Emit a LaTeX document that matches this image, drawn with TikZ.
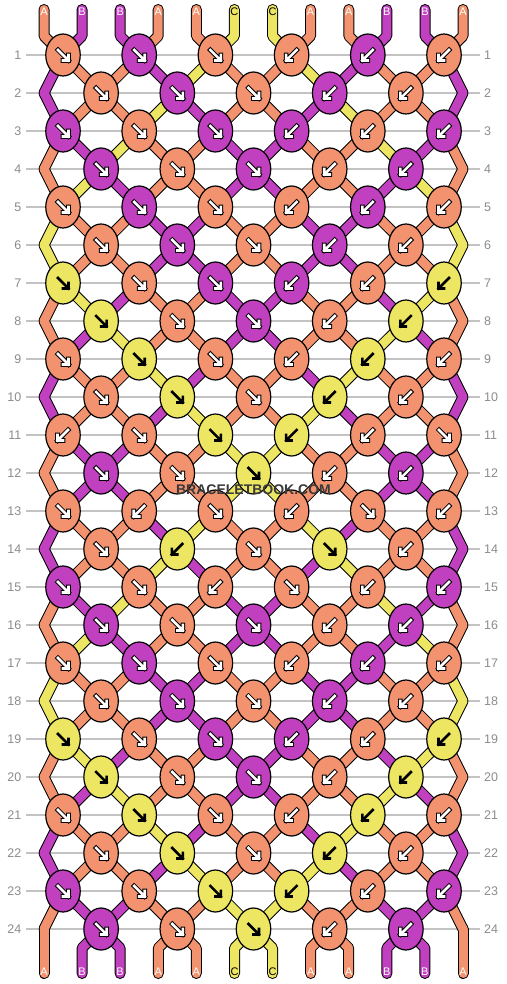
\documentclass[tikz,border=0pt]{standalone}
\usepackage{fontspec}
\setmainfont{Liberation Sans}
\usetikzlibrary{shapes.geometric}

\definecolor{strA}{RGB}{242,146,110}
\definecolor{strB}{RGB}{192,64,192}
\definecolor{strC}{RGB}{236,230,98}
\definecolor{rowgray}{RGB}{140,140,140}
\definecolor{gridgray}{RGB}{195,195,195}
\definecolor{markgray}{RGB}{58,58,58}

\pgfdeclarelayer{grid}
\pgfdeclarelayer{strands}
\pgfsetlayers{grid,strands,main}

\tikzset{
  knot/.style={ellipse, draw=black, line width=1.2pt, minimum width=34.5pt,
    minimum height=42pt, inner sep=0pt},
  strandout/.style={black, line width=11pt, line cap=round, line join=round},
  strandin/.style={color=#1, line width=9pt, line cap=round, line join=round},
  arrowout/.style={color=#1, line width=4.6pt, line cap=rect, line join=miter},
  arrowin/.style={color=#1, line width=2.6pt, line cap=rect, line join=miter},
  rowlabel/.style={text=rowgray, inner sep=0pt, font=\fontsize{12.5}{14}\selectfont},
  endlabel/.style={text=#1, inner sep=0pt, font=\fontsize{11}{12}\selectfont},
  gridline/.style={gridgray, line width=1.4pt},
}
\def\letC{C}

% knot directions per row (1 = forward, -1 = backward)
\def\knotrows{{1,1,1,-1,-1,-1},{1,1,1,-1,-1},{1,1,1,-1,-1,-1},{1,1,1,-1,-1},%
{1,1,1,-1,-1,-1},{1,1,1,-1,-1},{1,1,1,-1,-1,-1},{1,1,1,-1,-1},%
{1,1,1,-1,-1,-1},{1,1,1,-1,-1},{-1,1,1,-1,-1,1},{1,1,1,-1,-1},%
{1,-1,1,-1,1,-1},{1,-1,1,1,-1},{1,1,-1,1,-1,-1},{1,1,1,-1,-1},%
{1,1,1,-1,-1,-1},{1,1,1,-1,-1},{1,1,1,-1,-1,-1},{1,1,1,-1,-1},%
{1,1,1,-1,-1,-1},{1,1,1,-1,-1},{1,1,1,-1,-1,-1},{1,1,1,-1,-1}}

\begin{document}
\begin{tikzpicture}[x=1pt, y=-1pt]
  \useasboundingbox (0,0) rectangle (506,984);

  % strand colours, row by row
  \foreach \lt [count=\ps] in {A,B,B,A,A,C,C,A,A,B,B,A}
    {\expandafter\xdef\csname st0-\ps\endcsname{\lt}}
  \foreach \dirs [count=\rw] in \knotrows {
    \edef\rprev{\the\numexpr\rw-1\relax}
    \foreach \ps in {1,...,12}
      {\expandafter\xdef\csname st\rw-\ps\endcsname{\csname st\rprev-\ps\endcsname}}
    \foreach \sd [count=\kt] in \dirs {
      \ifodd\rw\relax\edef\posL{\the\numexpr2*\kt-1\relax}\else\edef\posL{\the\numexpr2*\kt\relax}\fi
      \edef\posR{\the\numexpr\posL+1\relax}
      \edef\colL{\csname st\rw-\posL\endcsname}
      \edef\colR{\csname st\rw-\posR\endcsname}
      \expandafter\xdef\csname st\rw-\posL\endcsname{\colR}
      \expandafter\xdef\csname st\rw-\posR\endcsname{\colL}
      \ifnum\sd>0 \expandafter\xdef\csname kc\rw-\kt\endcsname{\colL}%
      \else\expandafter\xdef\csname kc\rw-\kt\endcsname{\colR}\fi
    }
  }

  % rows and their numbers
  \begin{pgfonlayer}{grid}
    \fill[white] (0,0) rectangle (506,984);
    \foreach \rw in {1,...,24} {
      \pgfmathsetmacro\y{55+38*(\rw-1)}
      \draw[gridline] (26,\y) -- (480,\y);
      \node[rowlabel, anchor=east] (rowL\rw) at (21.5,\y) {\rw};
      \node[rowlabel, anchor=west] (rowR\rw) at (484,\y) {\rw};
    }
  \end{pgfonlayer}

  % knots with their arrows, and the turning points at the edges
  \foreach \dirs [count=\rw] in \knotrows {
    \pgfmathsetmacro\y{55+38*(\rw-1)}
    \ifodd\rw\relax\def\xstart{63}\else\def\xstart{101.1}%
      \coordinate (k\rw-0) at (44,\y);
      \coordinate (k\rw-6) at (463,\y);
    \fi
    \foreach \sd [count=\kt] in \dirs {
      \pgfmathsetmacro\x{\xstart+76.2*(\kt-1)}
      \edef\lt{\csname kc\rw-\kt\endcsname}
      \node[knot, fill=str\lt] (k\rw-\kt) at (\x,\y) {};
      \ifx\lt\letC\def\arrowfg{black}\def\arrowbg{strC}\else\def\arrowfg{white}\def\arrowbg{black}\fi
      \begin{scope}[shift={(k\rw-\kt.center)}, xscale=\sd]
        \draw[arrowout=\arrowbg] (-5,-5) -- (5.5,5.5) (0,5.5) -- (5.5,5.5) -- (5.5,0);
        \draw[arrowin=\arrowfg] (-5,-5) -- (5.5,5.5) (0,5.5) -- (5.5,5.5) -- (5.5,0);
      \end{scope}
    }
  }

  % loose ends with their letters
  \foreach \ps in {1,...,12} {
    \edef\ka{\the\numexpr(2*\ps+1)/4\relax}
    \edef\kb{\the\numexpr(2*\ps-1)/4\relax}
    \ifodd\ps\relax\def\dx{-19}\else\def\dx{19}\fi
    \pgfmathsetmacro\x{63+76.2*(\ka-1)+\dx}
    \coordinate (top\ps) at (\x,9.5);
    \coordinate (topb\ps) at (\x,36);
    \edef\lt{\csname st0-\ps\endcsname}
    \ifx\lt\letC\def\txt{black}\else\def\txt{white}\fi
    \node[endlabel=\txt] (labT\ps) at (\x,12) {\lt};
    \ifnum\ps=1 \def\x{44}\else\ifnum\ps=12 \def\x{463}\else
      \pgfmathsetmacro\x{101.1+76.2*(\kb-1)-\dx}\fi\fi
    \coordinate (botb\ps) at (\x,948);
    \coordinate (bot\ps) at (\x,973.5);
    \edef\lt{\csname st24-\ps\endcsname}
    \ifx\lt\letC\def\txt{black}\else\def\txt{white}\fi
    \node[endlabel=\txt] (labB\ps) at (\x,971.5) {\lt};
  }

  % strands under the knots: black rim first, then the colour
  \begin{pgfonlayer}{strands}
    \foreach \pass in {0,1} {
      \ifnum\pass=0 \tikzset{strand/.style={strandout}}\else\tikzset{strand/.style={strandin=str\lt}}\fi
      \foreach \ps in {1,...,12} {
        \edef\ka{\the\numexpr(2*\ps+1)/4\relax}
        \edef\kb{\the\numexpr(2*\ps-1)/4\relax}
        \edef\lt{\csname st0-\ps\endcsname}
        \draw[strand] (top\ps) -- (topb\ps) -- (k1-\ka.center);
        \edef\lt{\csname st24-\ps\endcsname}
        \draw[strand] (k24-\kb.center) -- (botb\ps) -- (bot\ps);
      }
      \foreach \rw in {1,...,23} {
        \edef\rn{\the\numexpr\rw+1\relax}
        \foreach \ps in {1,...,12} {
          \ifodd\rw\relax
            \edef\ka{\the\numexpr(2*\ps+1)/4\relax}\edef\kb{\the\numexpr(2*\ps-1)/4\relax}
          \else
            \edef\ka{\the\numexpr(2*\ps-1)/4\relax}\edef\kb{\the\numexpr(2*\ps+1)/4\relax}
          \fi
          \edef\lt{\csname st\rw-\ps\endcsname}
          \draw[strand] (k\rw-\ka.center) -- (k\rn-\kb.center);
        }
      }
    }
  \end{pgfonlayer}

  \node[font=\bfseries\fontsize{14}{16}\selectfont, text=markgray] (mark) at (253.5,490) {BRACELETBOOK.COM};
\end{tikzpicture}
\end{document}
